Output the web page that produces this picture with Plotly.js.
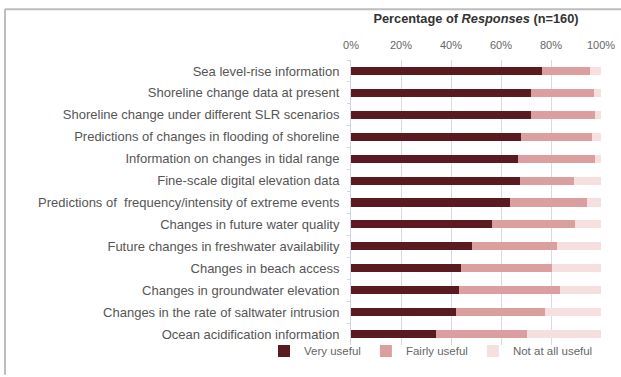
<!DOCTYPE html>
<html>
<head>
<meta charset="utf-8">
<script src="https://cdn.plot.ly/plotly-3.0.1.min.js"></script>
<style>
html,body{margin:0;padding:0;background:#fff;}
#chart{width:621px;height:377px;}
</style>
</head>
<body>
<div id="chart"></div>
<script>
const categories = [
  "Sea level-rise information",
  "Shoreline change data at present",
  "Shoreline change under different SLR scenarios",
  "Predictions of changes in flooding of shoreline",
  "Information on changes in tidal range",
  "Fine-scale digital elevation data",
  "Predictions of  frequency/intensity of extreme events",
  "Changes in future water quality",
  "Future changes in freshwater availability",
  "Changes in beach access",
  "Changes in groundwater elevation",
  "Changes in the rate of saltwater intrusion",
  "Ocean acidification information"
];
const veryUseful   = [76.4, 72.0, 72.0, 68.0, 66.8, 67.4, 63.4, 56.5, 48.5, 44.0, 43.2, 42.0, 34.0];
const fairlyUseful = [19.2, 25.0, 25.4, 28.4, 30.6, 21.6, 31.0, 33.1, 34.0, 36.5, 40.4, 35.6, 36.3];
const notUseful    = [4.4, 3.0, 2.6, 3.6, 2.6, 11.0, 5.6, 10.4, 17.5, 19.5, 16.4, 22.4, 29.7];
const seriesNames  = ["Very useful", "Fairly useful", "Not at all useful"];
const xTickValues  = [0, 20, 40, 60, 80, 100];
const xTickLabels  = ["0%", "20%", "40%", "60%", "80%", "100%"];
const chartTitle   = "Percentage of <i>Responses</i> (n=160)";

const colors = ["#5a1a20", "#dc9fa0", "#f5dfdf"];
const series = [veryUseful, fairlyUseful, notUseful];

const traces = series.map((vals, i) => ({
  type: "bar",
  orientation: "h",
  name: seriesNames[i],
  y: categories,
  x: vals,
  marker: {color: colors[i], line: {width: 0}},
  hoverinfo: "x+name"
}));

const W = 621, H = 377, L = 351, R = 20, T = 60, B = 30;
const pw = W - L - R, ph = H - T - B;
const px = v => (v - L) / pw;
const py = v => (H - B - v) / ph;
const FONT = "Liberation Sans, Arial, sans-serif";

const layout = {
  width: W, height: H,
  margin: {l: L, r: R, t: T, b: B, pad: 0},
  paper_bgcolor: "#fff",
  plot_bgcolor: "#fff",
  barmode: "stack",
  bargap: 0.63,
  font: {family: FONT, color: "#555", size: 12},
  title: {
    text: chartTitle,
    font: {size: 12.8, color: "#333", family: FONT, weight: "bold"},
    xref: "paper", x: 0.5, xanchor: "center",
    yref: "container", y: 1 - 19 / H, yanchor: "middle"
  },
  xaxis: {
    side: "top",
    range: [0, 100],
    tickvals: xTickValues,
    ticktext: xTickLabels,
    showgrid: true,
    gridcolor: "#d6dbe4",
    gridwidth: 1,
    zeroline: false,
    showline: false,
    ticks: "",
    ticklabelstandoff: 8,
    tickfont: {size: 11, color: "#666"},
    fixedrange: true
  },
  yaxis: {
    autorange: "reversed",
    type: "category",
    showgrid: false,
    zeroline: false,
    showline: true,
    linecolor: "#cfd6e2",
    linewidth: 1,
    ticks: "outside",
    tickson: "boundaries",
    ticklen: 3,
    tickcolor: "#cfd6e2",
    ticklabelstandoff: 8,
    tickfont: {size: 13, color: "#555"},
    fixedrange: true
  },
  showlegend: true,
  legend: {
    orientation: "h",
    x: px(264), xanchor: "left",
    y: py(353), yanchor: "middle",
    font: {size: 11.5, color: "#666"},
    itemwidth: 30,
    traceorder: "normal",
    bgcolor: "rgba(0,0,0,0)"
  },
  shapes: [
    {type: "line", xref: "paper", yref: "paper", x0: px(5), x1: px(621), y0: py(9), y1: py(9),
     line: {color: "#bdbdbd", width: 2}},
    {type: "line", xref: "paper", yref: "paper", x0: px(5), x1: px(5), y0: py(9), y1: py(377),
     line: {color: "#bdbdbd", width: 2}}
  ]
};

Plotly.newPlot("chart", traces, layout, {displayModeBar: false, staticPlot: true});
</script>
</body>
</html>
